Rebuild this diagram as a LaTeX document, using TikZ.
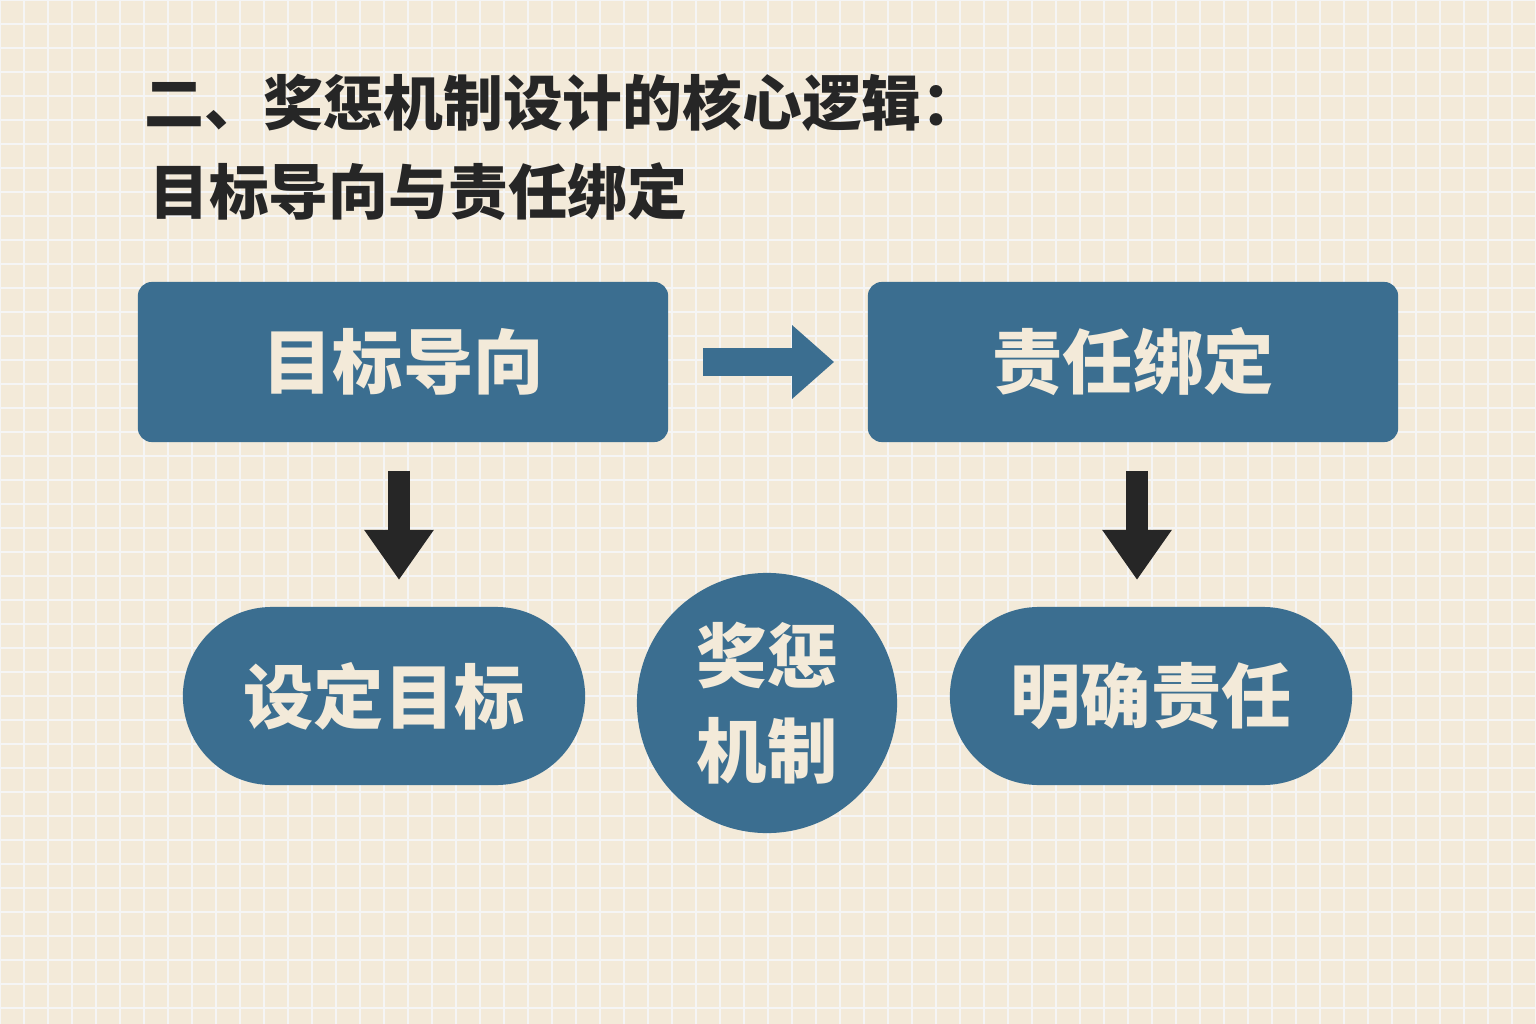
\documentclass[tikz,border=0pt]{standalone}
\usepackage{fontspec}
\setmainfont{Noto Sans CJK SC}
\usetikzlibrary{arrows.meta}
\definecolor{bg}{HTML}{F3EAD9}
\definecolor{blu}{HTML}{3B6E90}
\definecolor{ink}{HTML}{262626}
\tikzset{
 box/.style={fill=blu,rounded corners=0.14cm,minimum width=5.3cm,minimum height=1.6cm,text=bg,font=\bfseries\fontsize{20}{24}\selectfont},
 pill/.style={fill=blu,rounded corners=0.89cm,minimum width=4.02cm,minimum height=1.78cm,text=bg,font=\bfseries\fontsize{20}{24}\selectfont},
 dn/.style={draw=ink,line width=0.22cm,-{Triangle[width=0.66cm,length=0.5cm]},shorten <=0.28cm,shorten >=0.27cm},
}
\begin{document}
\begin{tikzpicture}[x=0.01cm,y=-0.01cm]
\fill[bg] (0,0) rectangle (1536,1024);
\useasboundingbox (0,0) rectangle (1536,1024);
\begin{scope}[draw=blu!8!bg,line width=0.3pt]
\foreach \i in {0,24,...,1536} \draw[black!4] (\i,0)--(\i,1024);
\foreach \i in {0,24,...,1024} \draw[black!4] (0,\i)--(1536,\i);
\end{scope}
\node[anchor=west,text=ink,font=\bfseries\fontsize{17}{20}\selectfont] (t1) at (132,103) {二、奖惩机制设计的核心逻辑：};
\node[anchor=west,text=ink,font=\bfseries\fontsize{17}{20}\selectfont] (t2) at (137,192) {目标导向与责任绑定};
\node[box] (a) at (403,362) {目标导向};
\node[box] (b) at (1133,362) {责任绑定};
\node[pill] (c) at (384,696) {设定目标};
\node[pill] (d) at (1151,696) {明确责任};
\node[circle,fill=blu,minimum size=2.6cm,inner sep=0pt,text=bg,align=center,font=\bfseries\fontsize{20}{27}\selectfont] (e) at (767,703) {奖惩\\机制};
\draw[dn] (a.south -| 399,0) -- (399,607);
\draw[dn] (b.south -| 1137,0) -- (1137,607);
\draw[draw=blu,line width=0.28cm,-{Triangle[width=0.71cm,length=0.42cm]},shorten <=0.34cm,shorten >=0.33cm] (a.east) -- (b.west);
\end{tikzpicture}
\end{document}
